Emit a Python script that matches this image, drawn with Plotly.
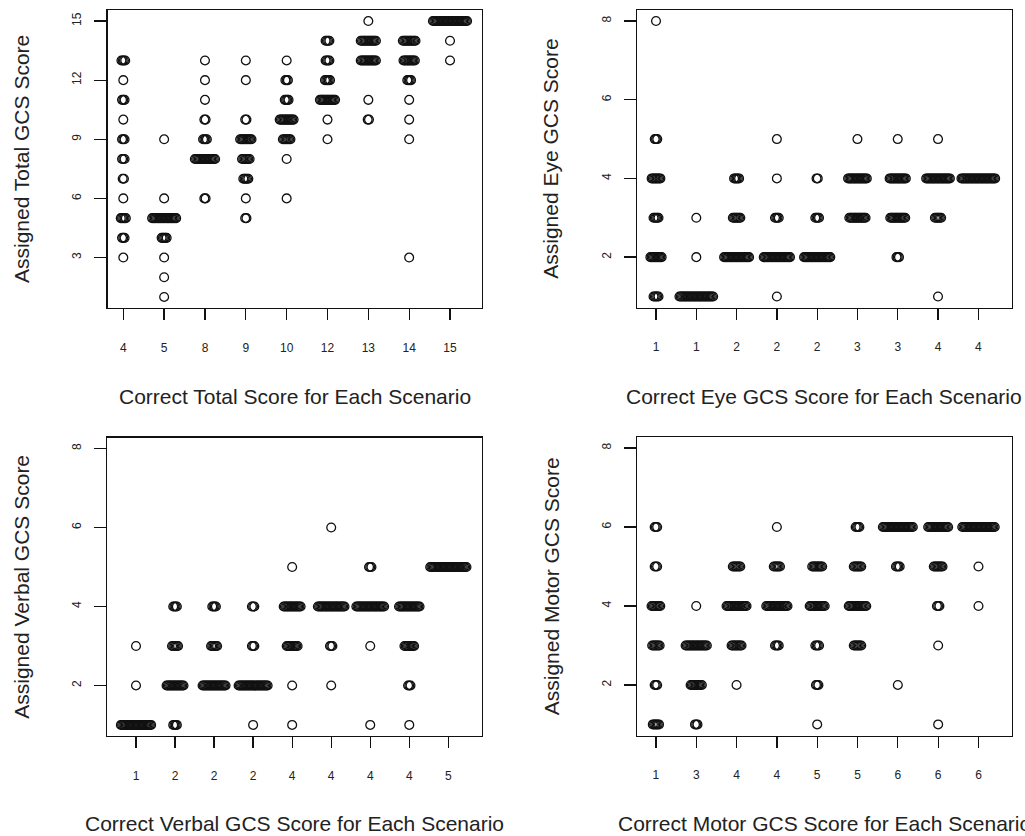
import plotly.graph_objects as go

# ---------------- data: counts of assigned scores per scenario ----------------
total_labels = ["4", "5", "8", "9", "10", "12", "13", "14", "15"]
total_counts = [
    {13: 4, 12: 1, 11: 3, 10: 1, 9: 3, 8: 3, 7: 2, 6: 1, 5: 5, 4: 3, 3: 1},
    {9: 1, 6: 1, 5: 20, 4: 5, 3: 1, 2: 1, 1: 1},
    {13: 1, 12: 1, 11: 1, 10: 2, 9: 4, 8: 17, 6: 2},
    {13: 1, 12: 1, 10: 2, 9: 10, 8: 7, 7: 5, 6: 1, 5: 2},
    {13: 1, 12: 3, 11: 4, 10: 12, 9: 7, 8: 1, 6: 1},
    {14: 4, 13: 4, 12: 5, 11: 13, 10: 1, 9: 1},
    {15: 1, 14: 13, 13: 13, 11: 1, 10: 2},
    {14: 11, 13: 10, 12: 4, 11: 1, 10: 1, 9: 1, 3: 1},
    {15: 28, 14: 1, 13: 1},
]

eye_labels = ["1", "1", "2", "2", "2", "3", "3", "4", "4"]
eye_counts = [
    {8: 1, 5: 3, 4: 8, 3: 5, 2: 10, 1: 5},
    {3: 1, 2: 1, 1: 28},
    {4: 5, 3: 7, 2: 21},
    {5: 1, 4: 1, 3: 4, 2: 22, 1: 1},
    {4: 2, 3: 4, 2: 22},
    {5: 1, 4: 16, 3: 14},
    {5: 1, 4: 14, 3: 13, 2: 3},
    {5: 1, 4: 20, 3: 6, 1: 1},
    {4: 28},
]

verbal_labels = ["1", "2", "2", "2", "4", "4", "4", "4", "5"]
verbal_counts = [
    {3: 1, 2: 1, 1: 26},
    {4: 4, 3: 6, 2: 15, 1: 4},
    {4: 4, 3: 6, 2: 20},
    {4: 3, 3: 3, 2: 25, 1: 1},
    {5: 1, 4: 15, 3: 10, 2: 1, 1: 1},
    {6: 1, 4: 23, 3: 3, 2: 1},
    {5: 3, 4: 24, 3: 1, 1: 1},
    {4: 18, 3: 9, 2: 3, 1: 1},
    {5: 31},
]

motor_labels = ["1", "3", "4", "4", "5", "5", "6", "6", "6"]
motor_counts = [
    {6: 3, 5: 3, 4: 8, 3: 7, 2: 3, 1: 6},
    {4: 1, 3: 18, 2: 10, 1: 3},
    {5: 7, 4: 17, 3: 9, 2: 1},
    {6: 1, 5: 6, 4: 18, 3: 4},
    {5: 9, 4: 13, 3: 4, 2: 3, 1: 1},
    {6: 4, 5: 7, 4: 15, 3: 7},
    {6: 25, 5: 4, 2: 1},
    {6: 17, 5: 8, 4: 3, 3: 1, 1: 1},
    {6: 27, 5: 1, 4: 1},
]

panels = [
    dict(counts=total_counts, labels=total_labels,
         ylab="Assigned Total GCS Score", xlab="Correct Total Score for Each Scenario",
         xdom=[107.5, 481.7], ydom=[10, 308], xr=[0.613, 9.776], yr=[0.44, 15.56],
         yt=[3, 6, 9, 12, 15], ylabx=22),
    dict(counts=eye_counts, labels=eye_labels,
         ylab="Assigned Eye GCS Score", xlab="Correct Eye GCS Score for Each Scenario",
         xdom=[637, 1011.7], ydom=[10, 307.5], xr=[0.528, 9.829], yr=[0.72, 8.28],
         yt=[2, 4, 6, 8], ylabx=551),
    dict(counts=verbal_counts, labels=verbal_labels,
         ylab="Assigned Verbal GCS Score", xlab="Correct Verbal GCS Score for Each Scenario",
         xdom=[107, 481.7], ydom=[437.5, 736], xr=[0.257, 9.855], yr=[0.72, 8.28],
         yt=[2, 4, 6, 8], ylabx=22),
    dict(counts=motor_counts, labels=motor_labels,
         ylab="Assigned Motor GCS Score", xlab="Correct Motor GCS Score for Each Scenario",
         xdom=[637, 1011.7], ydom=[437, 735.5], xr=[0.531, 9.824], yr=[0.72, 8.28],
         yt=[2, 4, 6, 8], ylabx=551),
]

W, H = 1025, 836
STEP = 0.031  # horizontal stacking offset between coincident points

fig = go.Figure()
annotations = []
FONT = "Liberation Sans, Arial, Helvetica, sans-serif"

for i, p in enumerate(panels):
    sfx = "" if i == 0 else str(i + 1)
    xs, ys = [], []
    for s, cdict in enumerate(p["counts"]):
        for val, n in cdict.items():
            for k in range(n):
                xs.append(s + 1 + (k - (n - 1) / 2) * STEP)
                ys.append(val)
    fig.add_trace(go.Scatter(
        x=xs, y=ys, mode="markers", xaxis="x" + sfx, yaxis="y" + sfx,
        marker=dict(symbol="circle-open", size=8.8, color="#111111",
                    line=dict(width=1.3, color="#111111")),
        showlegend=False, hoverinfo="skip"))

    xd = [p["xdom"][0] / W, p["xdom"][1] / W]
    yd = [1 - p["ydom"][1] / H, 1 - p["ydom"][0] / H]
    common = dict(showgrid=False, zeroline=False, showline=True, mirror=True,
                  linecolor="#111111", linewidth=1.3, ticks="outside",
                  tickcolor="#111111", tickwidth=1.3,
                  tickfont=dict(family=FONT, size=12, color="#222222"))
    fig.layout["xaxis" + sfx] = dict(
        common, domain=xd, range=p["xr"], anchor="y" + sfx,
        tickmode="array", tickvals=list(range(1, 10)), ticktext=p["labels"],
        ticklen=11, ticklabelstandoff=17)
    fig.layout["yaxis" + sfx] = dict(
        common, domain=yd, range=p["yr"], anchor="x" + sfx,
        tickmode="array", tickvals=p["yt"], ticktext=[str(v) for v in p["yt"]],
        ticklen=12, tickangle=-90, ticklabelstandoff=8)

    xc = (p["xdom"][0] + p["xdom"][1]) / 2
    yc = (p["ydom"][0] + p["ydom"][1]) / 2
    xt_y = 397 if p["ydom"][0] < 100 else 823
    annotations.append(dict(
        text=p["xlab"], x=xc / W, y=1 - xt_y / H, xref="paper", yref="paper",
        xanchor="center", yanchor="middle", showarrow=False,
        font=dict(family=FONT, size=21, color="#222222")))
    annotations.append(dict(
        text=p["ylab"], x=p["ylabx"] / W, y=1 - yc / H, xref="paper", yref="paper",
        xanchor="center", yanchor="middle", showarrow=False, textangle=-90,
        font=dict(family=FONT, size=21, color="#222222")))

fig.update_layout(
    width=W, height=H, margin=dict(l=0, r=0, t=0, b=0),
    paper_bgcolor="white", plot_bgcolor="white",
    annotations=annotations, showlegend=False)

fig.write_html(
    "out.html",
    config={"displayModeBar": False, "staticPlot": True},
    post_script="document.body.style.margin='0';document.body.style.overflow='hidden';")
